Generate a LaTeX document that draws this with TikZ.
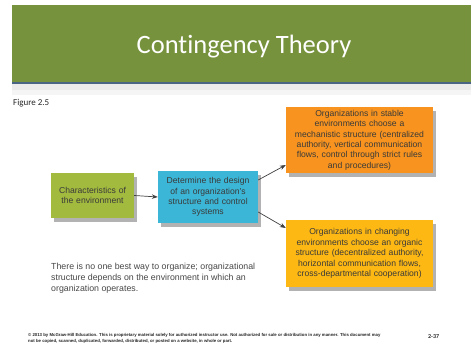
\documentclass[tikz,border=0pt]{standalone}
\usepackage{fontspec}
\setmainfont{Liberation Sans}
\newfontfamily\calib[Ligatures=NoCommon]{Carlito}
\usetikzlibrary{shadows,arrows.meta}
\definecolor{hdrgreen}{HTML}{76923C}
\definecolor{hdrline}{HTML}{4A6484}
\definecolor{boxgreen}{HTML}{A2BA3E}
\definecolor{boxblue}{HTML}{3CB6D6}
\definecolor{boxorange}{HTML}{F7931E}
\definecolor{boxyellow}{HTML}{FDB813}
\definecolor{txtgray}{HTML}{3A3A3A}
\tikzset{
  box/.style={draw=none, align=center, text=txtgray, inner sep=2pt,
    font=\fontsize{8.6}{10.4}\selectfont,
    drop shadow={shadow xshift=3pt, shadow yshift=-4pt, fill=black!55, opacity=0.55}},
  arr/.style={draw=black!75, line width=0.7pt, -{Stealth[length=6pt,width=4.5pt]}},
}
\begin{document}
\begin{tikzpicture}[x=1pt,y=-1pt]
\useasboundingbox (0,0) rectangle (471,352);
\fill[white] (0,0) rectangle (471,352);
% header
\fill[black!8] (12,84) rectangle (471,90);
\fill[black!4] (12,90) rectangle (471,95);
\fill[hdrgreen] (12,5) rectangle (471,82);
\fill[hdrline] (12,82) rectangle (471,84.5);
\node[text=white, font=\calib\fontsize{26.5}{30}\selectfont] (title) at (244,47) {Contingency Theory};
\node[anchor=west, inner sep=0, font=\calib\fontsize{9}{11}\selectfont, text=black!85] (fig) at (13,103) {Figure 2.5};
% boxes
\node[box, fill=boxgreen, minimum width=83pt, minimum height=45pt, text width=79pt] (env) at (92.5,195.5) {Characteristics of\\the environment};
\node[box, fill=boxblue, minimum width=100pt, minimum height=52pt, text width=96pt] (design) at (208,197) {Determine the design\\of an organization's\\structure and control\\systems};
\node[box, fill=boxorange, minimum width=147pt, minimum height=66pt, text width=143pt] (stable) at (359.5,140) {Organizations in stable\\environments choose a\\mechanistic structure (centralized\\authority, vertical communication\\flows, control through strict rules\\and procedures)};
\node[box, fill=boxyellow, minimum width=147pt, minimum height=67pt, text width=143pt] (changing) at (359.5,253.5) {Organizations in changing\\environments choose an organic\\structure (decentralized authority,\\horizontal communication flows,\\cross-departmental cooperation)};
% arrows
\draw[arr] (env.east) -- (design.west);
\draw[arr] ([yshift=17pt]design.east) -- ([yshift=-25pt]stable.west);
\draw[arr] ([yshift=-15pt]design.east) -- ([yshift=25.5pt]changing.west);
% note
\node[anchor=north west, inner sep=0, align=left, text=black!72, font=\fontsize{8.8}{10.8}\selectfont] (note) at (51,263) {There is no one best way to organize; organizational\\structure depends on the environment in which an\\organization operates.};
% footer
\node[anchor=north west, inner sep=0, align=left, text=black!85, font=\bfseries\fontsize{4.3}{6}\selectfont] (copy) at (28,333.5) {\textcopyright{} 2013 by McGraw-Hill Education. This is proprietary material solely for authorized instructor use. Not authorized for sale or distribution in any manner. This document may\\not be copied, scanned, duplicated, forwarded, distributed, or posted on a website, in whole or part.};
\node[anchor=west, inner sep=0, text=black!85, font=\calib\bfseries\fontsize{6}{7}\selectfont] (page) at (428,336.5) {2-37};
\end{tikzpicture}
\end{document}
